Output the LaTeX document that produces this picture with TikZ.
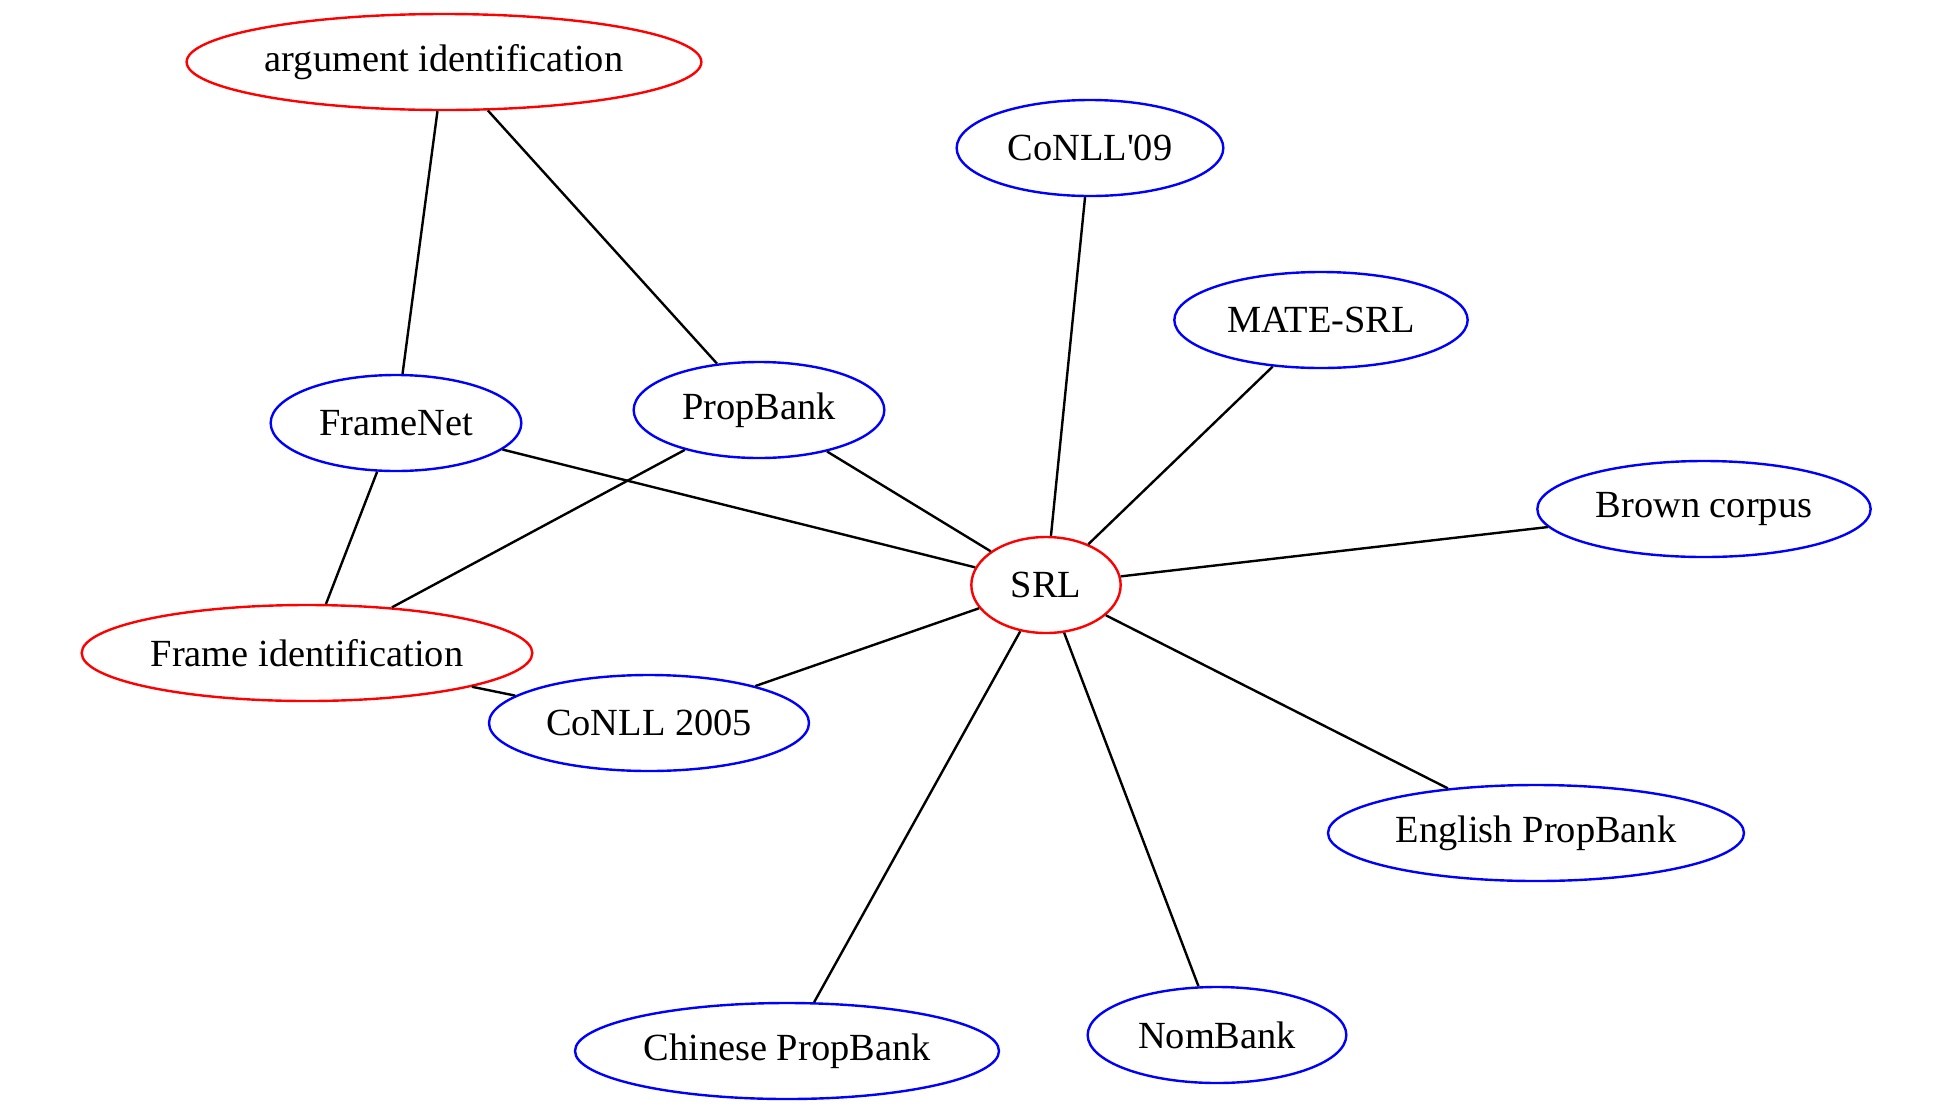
\documentclass[tikz,border=0pt]{standalone}
\usepackage{fontspec}
\setmainfont{Liberation Serif}[Ligatures=TeXOff]
\usepackage{tikz}
\usetikzlibrary{shapes.geometric}
\definecolor{TaskRed}{HTML}{FF0000}
\definecolor{ResourceBlue}{HTML}{0000FF}
\tikzset{
  basenode/.style={ellipse, draw, line width=0.9pt, minimum width=54pt, minimum height=36pt, inner xsep=1pt, inner ysep=0pt, font=\fontsize{14.4}{17}\selectfont, text=black},
  tasknode/.style={basenode, draw=TaskRed},
  resnode/.style={basenode, draw=ResourceBlue},
  link/.style={line width=0.9pt, black}
}
\begin{document}
\begin{tikzpicture}[x=0.375pt, y=-0.375pt]
  \useasboundingbox (0,0) rectangle (1933,1111);

  % Tasks
  \node[tasknode, minimum width=192pt] (argid) at (444,62) {argument identification};
  \node[tasknode, minimum width=56pt] (srl) at (1046,585) {SRL};
  \node[tasknode, minimum width=169pt] (frameid) at (307,653) {Frame identification};

  % Resources
  \node[resnode, minimum width=100pt] (conll09) at (1090,148) {CoNLL'09};
  \node[resnode, minimum width=110pt] (mate) at (1321,320) {MATE-SRL};
  \node[resnode, minimum width=94pt] (framenet) at (396,423) {FrameNet};
  \node[resnode, minimum width=94pt] (propbank) at (759,410) {PropBank};
  \node[resnode, minimum width=125pt] (brown) at (1704,509) {Brown corpus};
  \node[resnode, minimum width=120pt] (conll05) at (649,723) {CoNLL 2005};
  \node[resnode, minimum width=156pt] (englishpb) at (1536,833) {English PropBank};
  \node[resnode, minimum width=159pt] (chinesepb) at (787,1051) {Chinese PropBank};
  \node[resnode, minimum width=97pt] (nombank) at (1217,1035) {NomBank};

  % Edges
  \draw[link] (argid) -- (framenet);
  \draw[link] (argid) -- (propbank);
  \draw[link] (framenet) -- (frameid);
  \draw[link] (framenet) -- (srl);
  \draw[link] (propbank) -- (frameid);
  \draw[link] (propbank) -- (srl);
  \draw[link] (frameid) -- (conll05);
  \draw[link] (conll05) -- (srl);
  \draw[link] (conll09) -- (srl);
  \draw[link] (mate) -- (srl);
  \draw[link] (brown) -- (srl);
  \draw[link] (englishpb) -- (srl);
  \draw[link] (nombank) -- (srl);
  \draw[link] (chinesepb) -- (srl);
\end{tikzpicture}
\end{document}
